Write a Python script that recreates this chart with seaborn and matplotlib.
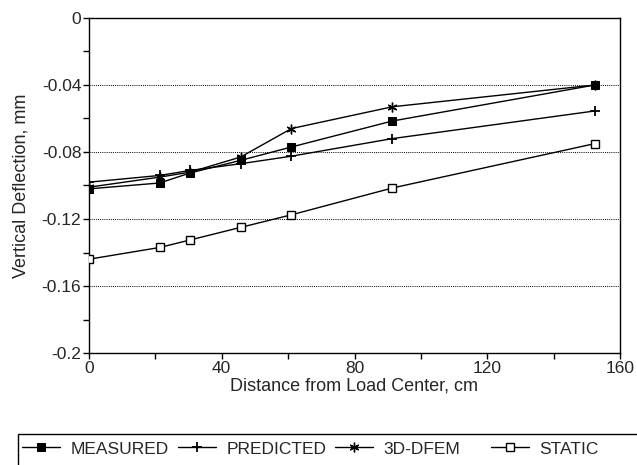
import matplotlib
matplotlib.use("Agg")
import matplotlib.pyplot as plt
import seaborn as sns
import pandas as pd
from matplotlib.ticker import MultipleLocator
from matplotlib.patches import Rectangle

sns.set_style("white")
plt.rcParams['font.family'] = ['Liberation Sans', 'DejaVu Sans']

distance = [0, 21.3, 30.5, 45.7, 61.0, 91.4, 152.4]
measured = [-0.102, -0.0985, -0.0925, -0.085, -0.077, -0.0615, -0.040]
predicted = [-0.098, -0.094, -0.091, -0.087, -0.0825, -0.072, -0.0555]
dfem = [-0.101, -0.095, -0.092, -0.083, -0.066, -0.053, -0.040]
static = [-0.144, -0.137, -0.1325, -0.125, -0.1175, -0.1015, -0.075]

series_names = ["MEASURED", "PREDICTED", "3D-DFEM", "STATIC"]
series_values = [measured, predicted, dfem, static]

rows = []
for name, vals in zip(series_names, series_values):
    for d, v in zip(distance, vals):
        rows.append({"Distance": d, "Deflection": v, "Series": name})
df = pd.DataFrame(rows)

styles = {
    "MEASURED": dict(marker="s", markersize=5.5, markerfacecolor="black", markeredgecolor="black", zorder=5),
    "PREDICTED": dict(marker="+", markersize=6.5, markeredgewidth=1.3, markeredgecolor="black", zorder=3),
    "3D-DFEM": dict(marker=(6, 2, 0), markersize=7, markeredgewidth=1.0, markeredgecolor="black", zorder=4),
    "STATIC": dict(marker="s", markersize=5.5, markerfacecolor="white", markeredgecolor="black", markeredgewidth=1.0, zorder=3),
}

W, H = 637, 465
fig = plt.figure(figsize=(W/100, H/100), dpi=100)
ax = fig.add_axes([89/W, 1 - 353/H, (620-89)/W, (353-18)/H])

for name in series_names:
    sub = df[df["Series"] == name]
    sns.lineplot(data=sub, x="Distance", y="Deflection", ax=ax, color="black",
                 linewidth=1.0, label=name, legend=False, **styles[name])

ax.set_xlim(0, 160)
ax.set_ylim(-0.2, 0)
ax.xaxis.set_minor_locator(MultipleLocator(20))
ax.yaxis.set_minor_locator(MultipleLocator(0.02))
ax.set_yticks([0, -0.04, -0.08, -0.12, -0.16, -0.2])
ax.set_yticklabels(["0", "-0.04", "-0.08", "-0.12", "-0.16", "-0.2"])
ax.set_xticks([0, 40, 80, 120, 160])
ax.set_xticklabels(["0", "40", "80", "120", "160"])
ax.tick_params(axis="both", which="major", direction="out", length=4, width=1,
               labelsize=12.5, pad=1.5, color="black", left=True, bottom=True)
ax.tick_params(axis="both", which="minor", direction="out", length=4, width=1,
               color="black", left=True, bottom=True)
for y in [-0.04, -0.08, -0.12, -0.16]:
    ax.axhline(y, color="black", linestyle=(0, (1, 1.2)), linewidth=0.7, zorder=0)
for s in ax.spines.values():
    s.set_color("black")
    s.set_linewidth(1.0)

ax.set_xlabel("Distance from Load Center, cm", fontsize=13, labelpad=1)
ax.set_ylabel("Vertical Deflection, mm", fontsize=13, labelpad=9)

# legend box (extends past the figure's right and bottom edges, as in the reference)
fig.patches.append(Rectangle((18/W, -0.05), 1.0, 1 - 434/H + 0.05, transform=fig.transFigure,
                             fill=False, edgecolor="black", linewidth=1.0))

handles, labels = ax.get_legend_handles_labels()
leg_kw = dict(frameon=False, fontsize=12.5, handlelength=2.2, columnspacing=0.5,
              handletextpad=0.6, borderaxespad=0, borderpad=0)
fig.legend(handles[:3], labels[:3], loc="center left", bbox_to_anchor=(22/W, 1 - 449/H),
           ncol=3, **leg_kw)
fig.legend(handles[3:], labels[3:], loc="center left", bbox_to_anchor=(491/W, 1 - 449/H),
           ncol=1, **leg_kw)

fig.savefig("out.png", dpi=100)
